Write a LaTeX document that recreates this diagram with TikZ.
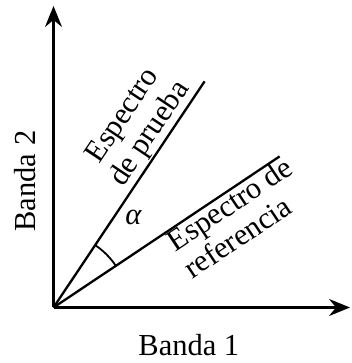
\documentclass[tikz,border=0pt]{standalone}
\usepackage{fontspec}
\setmainfont{Liberation Serif}
\usetikzlibrary{calc,arrows.meta}
\begin{document}
\begin{tikzpicture}[x=1pt,y=1pt,
  axis/.style={line width=2.3pt,-{Stealth[length=21pt,width=17pt,inset=7pt]}},
  ray/.style={line width=2.3pt},
  lbl/.style={inner sep=0pt,font=\fontsize{30.5}{34}\selectfont},
  lblb/.style={lbl,anchor=base}]
\useasboundingbox (0,0) rectangle (351,363);
\coordinate (O) at (53.5,55.5);
\coordinate (Y) at (53.5,357);
\coordinate (X) at (350,55.5);
\coordinate (P) at ($(O)+(56.25:272)$);
\coordinate (R) at ($(O)+(33.75:272)$);
\draw[axis] (O) -- (Y);
\draw[axis] (O) -- (X);
\draw[ray] (O) -- (P);
\draw[ray] (O) -- (R);
\draw[line width=1.8pt] ($(O)+(33.75:75)$) arc[start angle=33.75,end angle=56.25,radius=75];
\node[lbl] (alpha) at (133.5,145.5) {\itshape α};
\node[lblb,rotate=90] (b2) at (35,182) {Banda 2};
\node[lblb] (b1) at (188.8,7.3) {Banda 1};
\node[lblb,rotate=56.25] (p1) at ($(O)+(56.25:198)+(146.25:41)$) {Espectro};
\node[lblb,rotate=56.25] (p2) at ($(O)+(56.25:198)+(146.25:8.5)$) {de prueba};
\node[lblb,rotate=33.75] (r1) at ($(O)+(33.75:204)+(-56.25:22)$) {Espectro de};
\node[lblb,rotate=33.75] (r2) at ($(O)+(33.75:192)+(-56.25:54)$) {referencia};
\end{tikzpicture}
\end{document}
